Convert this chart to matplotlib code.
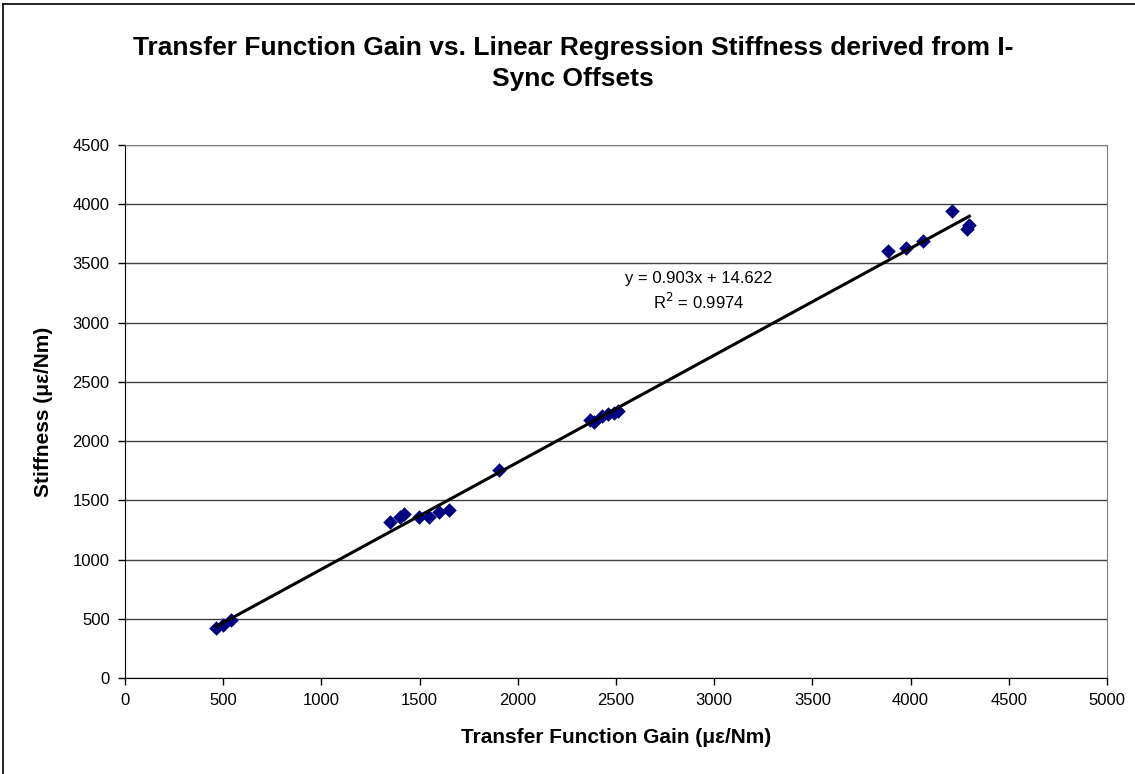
import matplotlib.pyplot as plt
from matplotlib.lines import Line2D

plt.rcParams['font.family'] = ['Liberation Sans', 'DejaVu Sans']

# transfer function gain vs stiffness (με/Nm)
gain = [465, 500, 540, 1350, 1400, 1420, 1495, 1550, 1600, 1650, 1905,
        2370, 2390, 2430, 2460, 2490, 2510, 3885, 3975, 4065, 4210, 4285, 4300]
stiffness = [420, 450, 490, 1315, 1360, 1385, 1355, 1360, 1400, 1415, 1755,
             2180, 2160, 2210, 2230, 2240, 2255, 3600, 3625, 3690, 3940, 3785, 3820]

slope = 0.903
intercept = 14.622
r2 = 0.9974

xticks = list(range(0, 5001, 500))
yticks = list(range(0, 4501, 500))

fig = plt.figure(figsize=(11.35, 7.74), dpi=100)
ax = fig.add_axes([0.1101, 0.124, 0.8652, 0.689])

ax.scatter(gain, stiffness, marker='D', s=55, color='#000080', zorder=3, linewidths=0)
x0, x1 = min(gain), max(gain)
ax.plot([x0, x1], [slope * x0 + intercept, slope * x1 + intercept], color='black', lw=2.2, zorder=4)

ax.set_xlim(0, 5000)
ax.set_ylim(0, 4500)
ax.set_xticks(xticks)
ax.set_yticks(yticks)
ax.tick_params(labelsize=12, direction='out', length=5, width=1, pad=6)
ax.grid(axis='y', color='#404040', lw=1)
ax.set_axisbelow(True)
for side in ['top', 'right']:
    ax.spines[side].set_color('#808080')
for side in ['left', 'bottom']:
    ax.spines[side].set_color('black')

ax.set_xlabel('Transfer Function Gain (με/Nm)', fontsize=15, fontweight='bold', labelpad=14)
ax.set_ylabel('Stiffness (με/Nm)', fontsize=15, fontweight='bold', labelpad=14)

ax.text(2920, 3370, f'y = {slope}x + {intercept}', fontsize=12, ha='center', va='center')
ax.text(2920, 3175, f'R$^2$ = {r2}', fontsize=12, ha='center', va='center')

fig.text(0.505, 0.918, 'Transfer Function Gain vs. Linear Regression Stiffness derived from I-\nSync Offsets',
         fontsize=19, fontweight='bold', ha='center', va='center', linespacing=1.4)

# chart area border (left and top edges visible)
fig.add_artist(Line2D([0.003, 0.003], [0, 0.995], transform=fig.transFigure, color='black', lw=1.2))
fig.add_artist(Line2D([0.003, 1.0], [0.995, 0.995], transform=fig.transFigure, color='black', lw=1.2))

fig.savefig('out.png', dpi=100)
